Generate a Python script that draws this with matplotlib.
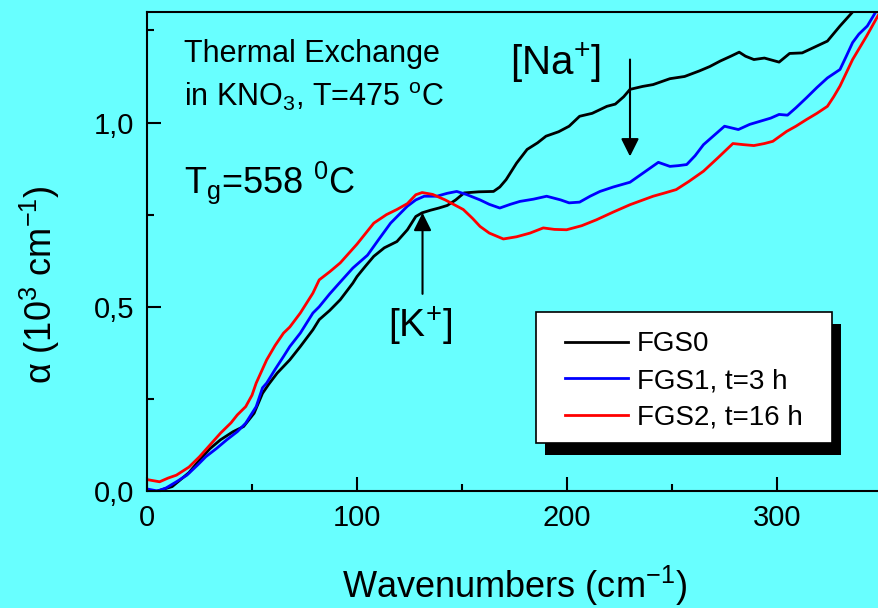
import matplotlib
matplotlib.use("Agg")
import matplotlib.pyplot as plt
from matplotlib.patches import Rectangle
from matplotlib.ticker import MultipleLocator, FuncFormatter

plt.rcParams['font.family'] = ['Liberation Sans', 'DejaVu Sans']
plt.rcParams['mathtext.fontset'] = 'custom'
plt.rcParams['mathtext.rm'] = 'Liberation Sans'
plt.rcParams['mathtext.it'] = 'Liberation Sans:italic'

# absorption spectra (wavenumber, alpha in 1e3 cm-1)
x_fgs0 = [5, 12, 20, 25, 30, 35, 41, 46, 51, 55, 58, 62, 68, 73, 79, 82, 87, 92, 98,
          100, 104, 108, 113, 119, 124, 128, 131, 135, 139, 143, 147, 151, 158, 165,
          168, 171, 176, 181, 186, 190, 196, 201, 206, 212, 219, 223, 227, 230, 236,
          241, 249, 256, 263, 268, 273, 278, 282, 285, 289, 294, 301, 306, 312, 318,
          324, 330, 336, 340]
y_fgs0 = [0.0, 0.012, 0.05, 0.084, 0.115, 0.139, 0.161, 0.175, 0.211, 0.265, 0.29,
          0.32, 0.356, 0.392, 0.4375, 0.465, 0.49, 0.519, 0.564, 0.582, 0.61, 0.637,
          0.66, 0.677, 0.709, 0.745, 0.755, 0.762, 0.768, 0.775, 0.79, 0.809, 0.812,
          0.813, 0.825, 0.845, 0.89, 0.927, 0.945, 0.963, 0.975, 0.99, 1.017, 1.025,
          1.044, 1.05, 1.07, 1.09, 1.098, 1.103, 1.119, 1.125, 1.14, 1.152, 1.167,
          1.18, 1.191, 1.18, 1.171, 1.175, 1.164, 1.1875, 1.189, 1.205, 1.221, 1.262,
          1.30, 1.33]

x_fgs1 = [0.5, 5, 9, 14, 19, 24, 28, 33, 38, 43, 47, 49, 52, 55, 57, 61, 65, 68, 73,
          79, 82, 87, 92, 98, 105, 110, 116, 120, 124, 128, 132, 138, 143, 147.5, 152,
          158.6, 163, 168, 173, 177.6, 184, 190.3, 197, 201, 206, 211, 215.7, 222, 230,
          233, 238, 243.5, 249, 253, 257, 261, 265, 270, 275, 281.6, 287, 292, 297,
          301, 305, 309, 314, 319, 324, 330, 333, 336, 339, 343, 347, 350]
y_fgs1 = [0.005, 0.0, 0.008, 0.025, 0.043, 0.07, 0.093, 0.115, 0.139, 0.161, 0.184,
          0.202, 0.229, 0.28, 0.293, 0.33, 0.365, 0.392, 0.4285, 0.483, 0.50, 0.535,
          0.567, 0.605, 0.64, 0.68, 0.727, 0.75, 0.773, 0.79, 0.80, 0.80, 0.808, 0.813,
          0.805, 0.79, 0.778, 0.768, 0.778, 0.786, 0.792, 0.80, 0.79, 0.782, 0.784,
          0.80, 0.813, 0.825, 0.838, 0.85, 0.87, 0.892, 0.881, 0.883, 0.886, 0.91,
          0.94, 0.965, 0.99, 0.981, 0.995, 1.0035, 1.012, 1.022, 1.02, 1.04, 1.067,
          1.095, 1.121, 1.144, 1.18, 1.217, 1.24, 1.262, 1.30, 1.33]

x_fgs2 = [1, 6, 10, 14, 20, 25, 30, 35, 40, 43, 47, 50, 52, 57, 61, 65, 68, 73, 79,
          82, 87, 92, 100, 108, 114, 119, 124, 128, 131, 136, 142, 150.6, 155, 158.6,
          163, 169.7, 176, 182.4, 188.7, 194, 199.8, 207, 214, 222, 230, 241, 246, 252,
          258, 265, 272, 279, 284, 289, 294, 298, 304.6, 309, 314, 319, 324, 327, 330,
          336, 342.7, 348, 351]
y_fgs2 = [0.03, 0.025, 0.035, 0.043, 0.065, 0.093, 0.125, 0.157, 0.185, 0.2065, 0.229,
          0.26, 0.293, 0.356, 0.395, 0.4285, 0.445, 0.483, 0.537, 0.573, 0.595, 0.619,
          0.67, 0.727, 0.75, 0.764, 0.78, 0.804, 0.81, 0.805, 0.79, 0.764, 0.74, 0.718,
          0.70, 0.684, 0.69, 0.70, 0.714, 0.71, 0.709, 0.72, 0.736, 0.757, 0.777, 0.80,
          0.808, 0.818, 0.84, 0.868, 0.905, 0.943, 0.94, 0.9375, 0.943, 0.949, 0.976,
          0.99, 1.008, 1.025, 1.044, 1.07, 1.099, 1.171, 1.235, 1.289, 1.32]

labels = ['FGS0', 'FGS1, t=3 h', 'FGS2, t=16 h']
colors = ['black', '#0000FF', '#FF0000']

bg = '#68FFFF'
fig = plt.figure(figsize=(8.79, 6.08), dpi=100, facecolor=bg)
ax = fig.add_axes([147 / 879, 117 / 608, 735 / 879, 479 / 608])
ax.set_facecolor(bg)

for xs, ys, lab, c in zip([x_fgs0, x_fgs1, x_fgs2], [y_fgs0, y_fgs1, y_fgs2], labels, colors):
    ax.plot(xs, ys, color=c, lw=2, label=lab)

ax.set_xlim(0, 350)
ax.set_ylim(0, 1.3)
ax.xaxis.set_major_locator(MultipleLocator(100))
ax.xaxis.set_minor_locator(MultipleLocator(50))
ax.yaxis.set_major_locator(MultipleLocator(0.5))
ax.yaxis.set_minor_locator(MultipleLocator(0.25))
ax.yaxis.set_major_formatter(FuncFormatter(lambda v, p: f"{v:.1f}".replace('.', ',')))
ax.tick_params(which='major', direction='in', length=10, width=1.5, labelsize=21, pad=9)
ax.tick_params(which='minor', direction='in', length=5, width=1.5)
for s in ax.spines.values():
    s.set_linewidth(1.5)

ax.set_xlabel('Wavenumbers (cm$^\\mathregular{-1}$)', fontsize=26, va='baseline')
ax.set_ylabel('\u03b1 (10$^\\mathregular{3}$ cm$^\\mathregular{-1}$)', fontsize=26,
              va='baseline', rotation_mode='anchor')
ax.xaxis.set_label_coords(0.5, -0.2234)
ax.yaxis.set_label_coords(-0.129, 0.43)

ax.text(17.6, 1.163, 'Thermal Exchange', fontsize=22, va='baseline')
ax.text(17.6, 1.046, 'in KNO$_\\mathregular{3}$, T=475 $^\\mathregular{o}$C', fontsize=22, va='baseline')
ax.text(17.6, 0.81, 'T$_\\mathregular{g}$=558 $^\\mathregular{0}$C', fontsize=26, va='baseline')
ax.text(172.9, 1.13, '[Na$^\\mathregular{+}$]', fontsize=29, va='baseline')
ax.text(114.8, 0.416, '[K$^\\mathregular{+}$]', fontsize=28, va='baseline')

arrow = dict(arrowstyle='-|>,head_length=0.6,head_width=0.3', color='black', lw=1.5,
             mutation_scale=18, shrinkA=0, shrinkB=0)
ax.annotate('', xy=(230, 0.908), xytext=(230, 1.171), arrowprops=arrow)
ax.annotate('', xy=(131.2, 0.755), xytext=(131.2, 0.535), arrowprops=arrow)

# legend box with a solid black drop shadow
ax.add_patch(Rectangle((0.542, 0.075), 0.4027, 0.2735, transform=ax.transAxes,
                       facecolor='black', edgecolor='none', zorder=4))
ax.add_patch(Rectangle((0.529, 0.1002), 0.4027, 0.2735, transform=ax.transAxes,
                       facecolor='white', edgecolor='black', lw=1.2, zorder=4.5))
ax.legend(loc='upper left', bbox_to_anchor=(0.5687, 0.333), frameon=False, fontsize=20,
          borderpad=0, borderaxespad=0, handlelength=2.27, handletextpad=0.33,
          labelspacing=0.38)

fig.savefig('out.png', dpi=100, facecolor=bg)
